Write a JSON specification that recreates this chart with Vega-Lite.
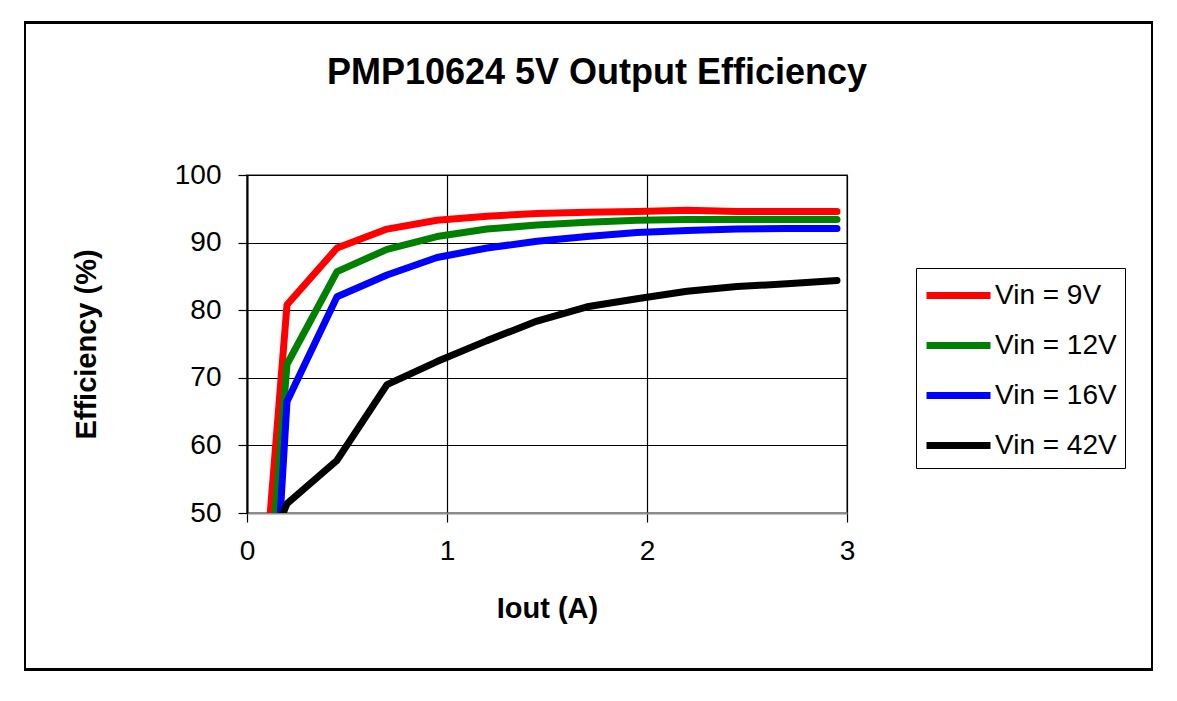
{
  "$schema": "https://vega.github.io/schema/vega-lite/v6.json",
  "width": 600,
  "height": 338,
  "autosize": {"type": "none"},
  "padding": {"left": 247, "top": 175, "right": 330, "bottom": 188},
  "background": "white",
  "title": {
    "text": "PMP10624 5V Output Efficiency",
    "font": "Liberation Sans",
    "fontSize": 36,
    "fontWeight": "bold",
    "color": "black",
    "anchor": "middle",
    "frame": "group",
    "dx": 50,
    "offset": -71
  },
  "config": {
    "view": {"stroke": "#8c8c8c", "strokeWidth": 2},
    "font": "Liberation Sans",
    "axis": {
      "labelFont": "Liberation Sans",
      "labelFontSize": 28,
      "labelColor": "black",
      "titleFont": "Liberation Sans",
      "titleFontSize": 29,
      "titleFontWeight": "bold",
      "titleColor": "black",
      "grid": true,
      "gridColor": "black",
      "gridWidth": 1.2,
      "gridOpacity": 1,
      "tickColor": "black",
      "tickSize": 9,
      "tickWidth": 1.2,
      "labelFlush": false
    }
  },
  "data": {
    "values": [
      {"I": 0.1, "eff": 44.0, "Vin": "Vin = 9V"},
      {"I": 0.2, "eff": 80.8, "Vin": "Vin = 9V"},
      {"I": 0.45, "eff": 89.2, "Vin": "Vin = 9V"},
      {"I": 0.7, "eff": 92.0, "Vin": "Vin = 9V"},
      {"I": 0.95, "eff": 93.3, "Vin": "Vin = 9V"},
      {"I": 1.2, "eff": 93.9, "Vin": "Vin = 9V"},
      {"I": 1.45, "eff": 94.3, "Vin": "Vin = 9V"},
      {"I": 1.7, "eff": 94.5, "Vin": "Vin = 9V"},
      {"I": 1.95, "eff": 94.6, "Vin": "Vin = 9V"},
      {"I": 2.2, "eff": 94.8, "Vin": "Vin = 9V"},
      {"I": 2.45, "eff": 94.6, "Vin": "Vin = 9V"},
      {"I": 2.7, "eff": 94.6, "Vin": "Vin = 9V"},
      {"I": 2.95, "eff": 94.6, "Vin": "Vin = 9V"},
      {"I": 0.1, "eff": 35.0, "Vin": "Vin = 12V"},
      {"I": 0.2, "eff": 72.0, "Vin": "Vin = 12V"},
      {"I": 0.45, "eff": 85.7, "Vin": "Vin = 12V"},
      {"I": 0.7, "eff": 89.0, "Vin": "Vin = 12V"},
      {"I": 0.95, "eff": 90.9, "Vin": "Vin = 12V"},
      {"I": 1.2, "eff": 92.0, "Vin": "Vin = 12V"},
      {"I": 1.45, "eff": 92.6, "Vin": "Vin = 12V"},
      {"I": 1.7, "eff": 93.0, "Vin": "Vin = 12V"},
      {"I": 1.95, "eff": 93.3, "Vin": "Vin = 12V"},
      {"I": 2.2, "eff": 93.4, "Vin": "Vin = 12V"},
      {"I": 2.45, "eff": 93.4, "Vin": "Vin = 12V"},
      {"I": 2.7, "eff": 93.4, "Vin": "Vin = 12V"},
      {"I": 2.95, "eff": 93.4, "Vin": "Vin = 12V"},
      {"I": 0.1, "eff": 17.0, "Vin": "Vin = 16V"},
      {"I": 0.2, "eff": 66.5, "Vin": "Vin = 16V"},
      {"I": 0.45, "eff": 82.0, "Vin": "Vin = 16V"},
      {"I": 0.7, "eff": 85.2, "Vin": "Vin = 16V"},
      {"I": 0.95, "eff": 87.8, "Vin": "Vin = 16V"},
      {"I": 1.2, "eff": 89.2, "Vin": "Vin = 16V"},
      {"I": 1.45, "eff": 90.2, "Vin": "Vin = 16V"},
      {"I": 1.7, "eff": 90.9, "Vin": "Vin = 16V"},
      {"I": 1.95, "eff": 91.5, "Vin": "Vin = 16V"},
      {"I": 2.2, "eff": 91.8, "Vin": "Vin = 16V"},
      {"I": 2.45, "eff": 92.0, "Vin": "Vin = 16V"},
      {"I": 2.7, "eff": 92.1, "Vin": "Vin = 16V"},
      {"I": 2.95, "eff": 92.1, "Vin": "Vin = 16V"},
      {"I": 0.1, "eff": 44.0, "Vin": "Vin = 42V"},
      {"I": 0.2, "eff": 51.4, "Vin": "Vin = 42V"},
      {"I": 0.45, "eff": 57.8, "Vin": "Vin = 42V"},
      {"I": 0.7, "eff": 69.0, "Vin": "Vin = 42V"},
      {"I": 0.95, "eff": 72.4, "Vin": "Vin = 42V"},
      {"I": 1.2, "eff": 75.5, "Vin": "Vin = 42V"},
      {"I": 1.45, "eff": 78.4, "Vin": "Vin = 42V"},
      {"I": 1.7, "eff": 80.5, "Vin": "Vin = 42V"},
      {"I": 1.95, "eff": 81.7, "Vin": "Vin = 42V"},
      {"I": 2.2, "eff": 82.8, "Vin": "Vin = 42V"},
      {"I": 2.45, "eff": 83.5, "Vin": "Vin = 42V"},
      {"I": 2.7, "eff": 83.9, "Vin": "Vin = 42V"},
      {"I": 2.95, "eff": 84.4, "Vin": "Vin = 42V"}
    ]
  },
  "layer": [
    {
      "mark": {"type": "rect", "fill": null, "filled": false, "stroke": "black", "strokeWidth": 2, "clip": false},
      "encoding": {
        "x": {"datum": -1.11, "type": "quantitative", "scale": {"domain": [0, 3]}},
        "x2": {"datum": 4.525},
        "y": {"datum": 122.6, "type": "quantitative", "scale": {"domain": [50, 100]}},
        "y2": {"datum": 26.8}
      }
    },
    {
      "mark": {"type": "line", "strokeWidth": 7, "strokeCap": "round", "strokeJoin": "round", "clip": true},
      "encoding": {
        "x": {
          "field": "I",
          "type": "quantitative",
          "scale": {"domain": [0, 3], "nice": false},
          "axis": {
            "title": "Iout (A)",
            "values": [0, 1, 2, 3],
            "format": "d",
            "labelPadding": 15,
            "titlePadding": 29,
            "domainColor": "#8c8c8c",
            "domainWidth": 2
          }
        },
        "y": {
          "field": "eff",
          "type": "quantitative",
          "scale": {"domain": [50, 100], "nice": false, "zero": false},
          "axis": {
            "title": "Efficiency (%)",
            "values": [50, 60, 70, 80, 90, 100],
            "labelPadding": 17,
            "titlePadding": 73,
            "domainColor": "black",
            "domainWidth": 2
          }
        },
        "color": {
          "field": "Vin",
          "type": "nominal",
          "scale": {
            "domain": ["Vin = 9V", "Vin = 12V", "Vin = 16V", "Vin = 42V"],
            "range": ["#ff0000", "#008000", "#0000ff", "#000000"]
          },
          "legend": {
            "title": null,
            "orient": "none",
            "legendX": 669,
            "legendY": 93,
            "strokeColor": "black",
            "fillColor": "white",
            "padding": 8,
            "symbolType": "M-2,0L2,0",
            "symbolSize": 1024,
            "symbolStrokeWidth": 7,
            "symbolOffset": 15,
            "labelFont": "Liberation Sans",
            "labelFontSize": 28,
            "labelColor": "black",
            "labelOffset": 17,
            "rowPadding": 16
          }
        },
        "order": {"field": "I", "type": "quantitative"}
      }
    }
  ]
}
